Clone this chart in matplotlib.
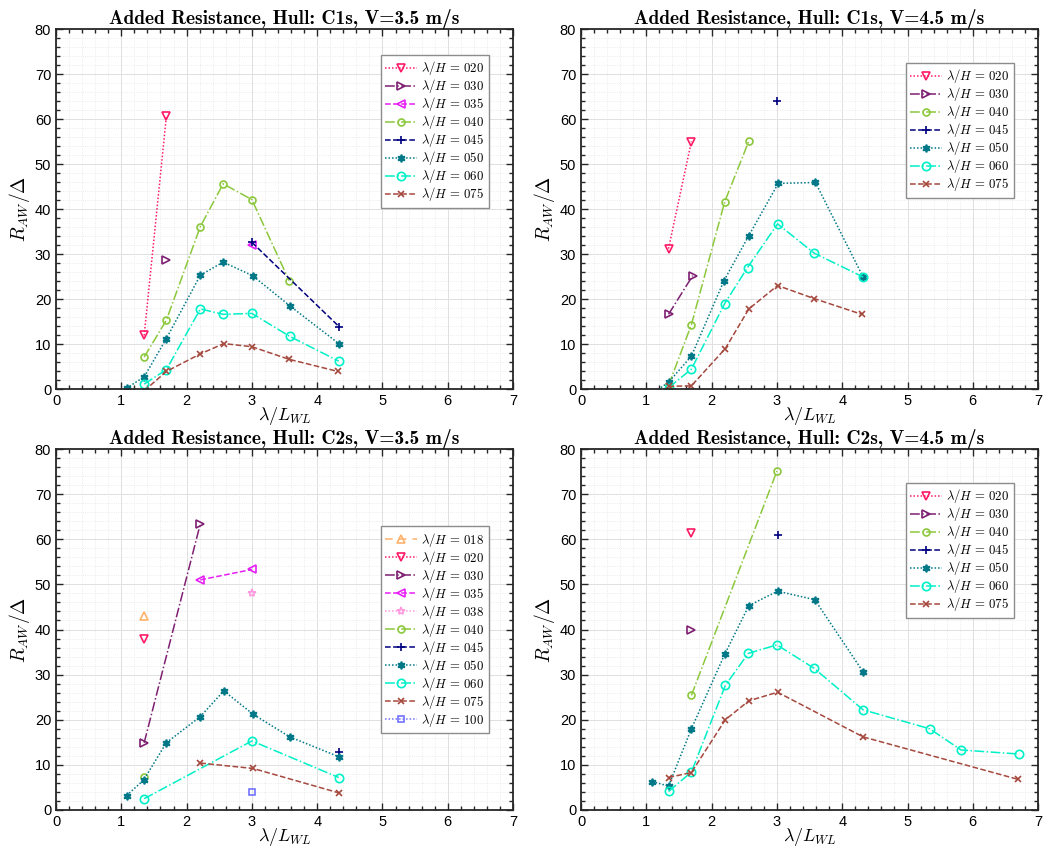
import numpy as np
import matplotlib
matplotlib.use("Agg")
import matplotlib.pyplot as plt
from matplotlib.ticker import MultipleLocator

plt.rcParams['mathtext.fontset'] = 'cm'
plt.rcParams['font.family'] = ['Liberation Sans', 'DejaVu Sans']

# --- Data: lambda/H -> (lambda/L_WL, R_AW/Delta) ---
c1s_35 = {
    '020': ([1.35, 1.69], [11.9, 60.6]),
    '030': ([1.69], [28.7]),
    '035': ([3.00], [31.9]),
    '040': ([1.35, 1.69, 2.21, 2.56, 3.00, 3.57], [7.1, 15.3, 36.1, 45.6, 42.1, 24.1]),
    '045': ([3.00, 4.34], [32.6, 13.8]),
    '050': ([1.08, 1.35, 1.69, 2.21, 2.56, 3.01, 3.58, 4.34], [0.2, 2.7, 11.2, 25.3, 28.2, 25.2, 18.5, 10.0]),
    '060': ([1.35, 1.69, 2.21, 2.56, 3.00, 3.58, 4.33], [1.1, 4.3, 17.8, 16.6, 16.8, 11.7, 6.2]),
    '075': ([1.35, 1.69, 2.21, 2.57, 3.00, 3.57, 4.32], [-0.4, 3.9, 7.8, 10.1, 9.4, 6.6, 3.9]),
}
c1s_45 = {
    '020': ([1.34, 1.69], [31.2, 55.0]),
    '030': ([1.34, 1.71], [16.6, 25.2]),
    '040': ([1.34, 1.69, 2.20, 2.57], [0.8, 14.3, 41.6, 55.1]),
    '045': ([3.00], [63.9]),
    '050': ([1.09, 1.34, 1.69, 2.19, 2.57, 3.02, 3.59, 4.32], [-1.0, 1.5, 7.3, 24.1, 34.1, 45.7, 45.9, 24.9]),
    '060': ([1.34, 1.69, 2.20, 2.55, 3.01, 3.57, 4.32], [0.3, 4.4, 19.0, 27.0, 36.7, 30.2, 24.9]),
    '075': ([1.34, 1.69, 2.21, 2.57, 3.01, 3.57, 4.30], [0.6, 0.7, 9.0, 17.8, 23.0, 20.1, 16.6]),
}
c2s_35 = {
    '018': ([1.34], [42.9]),
    '020': ([1.34], [37.9]),
    '030': ([1.35, 2.21], [14.9, 63.4]),
    '035': ([2.21, 3.00], [51.0, 53.3]),
    '038': ([3.00], [48.1]),
    '040': ([1.34], [7.4]),
    '045': ([4.34], [12.9]),
    '050': ([1.08, 1.34, 1.69, 2.21, 2.57, 3.02, 3.58, 4.33], [3.2, 6.6, 14.9, 20.7, 26.4, 21.2, 16.2, 11.8]),
    '060': ([1.35, 3.00, 4.33], [2.5, 15.3, 7.2]),
    '075': ([2.21, 3.02, 4.33], [10.4, 9.2, 3.8]),
    '100': ([3.00], [3.9]),
}
c2s_45 = {
    '020': ([1.69], [61.4]),
    '030': ([1.69], [39.9]),
    '040': ([1.69, 3.00], [25.4, 75.1]),
    '045': ([3.01], [61.0]),
    '050': ([1.09, 1.34, 1.69, 2.20, 2.57, 3.01, 3.58, 4.32], [6.3, 5.3, 18.0, 34.5, 45.3, 48.5, 46.6, 30.6]),
    '060': ([1.34, 1.69, 2.21, 2.56, 3.00, 3.57, 4.32, 5.34, 5.82, 6.71], [4.1, 8.4, 27.6, 34.7, 36.6, 31.4, 22.2, 18.0, 13.3, 12.4]),
    '075': ([1.34, 1.69, 2.21, 2.57, 3.01, 4.32, 6.69], [7.2, 8.3, 20.0, 24.2, 26.1, 16.2, 6.8]),
}

titles = ['Added Resistance, Hull: C1s, V=3.5 m/s', 'Added Resistance, Hull: C1s, V=4.5 m/s',
          'Added Resistance, Hull: C2s, V=3.5 m/s', 'Added Resistance, Hull: C2s, V=4.5 m/s']

# --- Styles per lambda/H ---
hexagram = (6, 1, 0)
styles = {
    '018': dict(color='#FFB26B', ls=(0, (5, 4)), marker='^', mfc='none'),
    '020': dict(color='#FF1A66', ls=(0, (1, 1.3)), marker='v', mfc='none'),
    '030': dict(color='#7E1F72', ls='-.', marker='>', mfc='none'),
    '035': dict(color='#E61EF5', ls='--', marker='<', mfc='none'),
    '038': dict(color='#FF99E0', ls=(0, (1, 1.3)), marker='*', mfc='none'),
    '040': dict(color='#8CC83C', ls='-.', marker='o', mfc='none', ms=5),
    '045': dict(color='#00007F', ls='--', marker='+'),
    '050': dict(color='#007888', ls=(0, (1, 1.3)), marker=hexagram, ms=5.5),
    '060': dict(color='#00F0C8', ls='-.', marker='o', mfc='none'),
    '075': dict(color='#A5483E', ls='--', marker='x', ms=5),
    '100': dict(color='#7373FF', ls=(0, (1, 1.3)), marker='s', mfc='none', ms=5),
}

positions = [[0.0534, 0.5434, 0.4357, 0.4225], [0.5539, 0.5434, 0.4357, 0.4225],
             [0.0534, 0.0493, 0.4357, 0.4237], [0.5539, 0.0493, 0.4357, 0.4237]]
legend_loc = [('upper right', (0.947, 0.928)), ('upper right', (0.947, 0.906)),
              ('center right', (0.947, 0.5)), ('upper right', (0.947, 0.906))]

fig = plt.figure(figsize=(10.49, 8.52), dpi=100)

for k, data in enumerate([c1s_35, c1s_45, c2s_35, c2s_45]):
    ax = fig.add_axes(positions[k])
    for lab, (x, y) in data.items():
        st = dict(styles[lab])
        st.setdefault('ms', 6)
        visible = [i for i, v in enumerate(y) if v >= 0]
        ax.plot(x, y, color=st['color'], linestyle=st['ls'], lw=1.1,
                marker=st['marker'], ms=st['ms'], mfc=st.get('mfc', st['color']),
                mew=1.2, markevery=visible, label=r'$\lambda/H\,=\,%s$' % lab)
    ax.set_xlim(0, 7)
    ax.set_ylim(0, 80)
    ax.xaxis.set_major_locator(MultipleLocator(1))
    ax.xaxis.set_minor_locator(MultipleLocator(0.2))
    ax.yaxis.set_major_locator(MultipleLocator(10))
    ax.yaxis.set_minor_locator(MultipleLocator(2))
    ax.tick_params(which='both', direction='in', top=True, right=True, labelsize=10.5,
                   color='#262626', width=1.0)
    ax.tick_params(which='major', length=5)
    ax.tick_params(which='minor', length=3)
    ax.grid(True, which='major', color='#e0e0e0', lw=0.7)
    ax.grid(True, which='minor', color='#e6e6e6', lw=0.6, ls=':')
    ax.set_axisbelow(True)
    for sp in ax.spines.values():
        sp.set_color('#262626')
        sp.set_linewidth(1.3)
    ax.set_xlabel(r'$\lambda/L_{WL}$', fontsize=13, labelpad=-2)
    ax.set_ylabel(r'$R_{AW}/\Delta$', fontsize=14, labelpad=2)
    ax.set_title(titles[k], fontfamily='cmb10', fontsize=14, pad=3)
    loc, anchor = legend_loc[k]
    leg = ax.legend(loc=loc, bbox_to_anchor=anchor, fontsize=9.2, handlelength=2.5,
                    labelspacing=0.0, borderpad=0.35, handletextpad=0.3,
                    fancybox=False, framealpha=1, edgecolor='#8c8c8c', borderaxespad=0)
    leg.get_frame().set_linewidth(1.0)

fig.savefig('out.png', dpi=100)
